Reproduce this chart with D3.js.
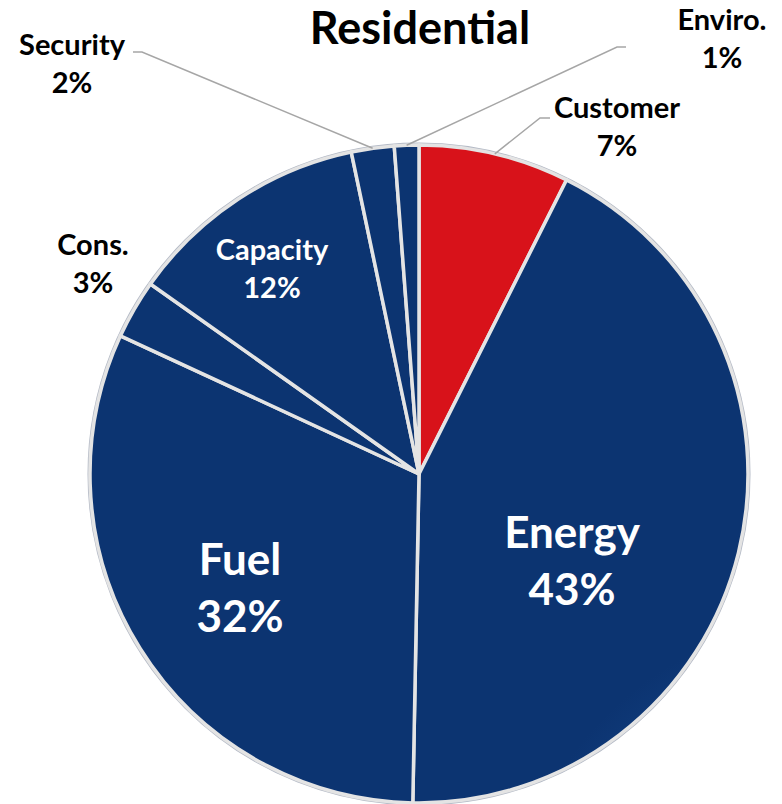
<!DOCTYPE html>
<html><head><meta charset="utf-8">
<script src="https://cdn.jsdelivr.net/npm/d3@7"></script>
<style>html,body{margin:0;padding:0;background:#fff;}svg{display:block;}</style>
</head><body>
<svg id="c" width="782" height="804"></svg>
<script>
const categories = ["Customer","Energy","Fuel","Cons.","Capacity","Security","Enviro."];
const values = [7.4, 42.9, 31.6, 2.9, 11.9, 2.1, 1.2];
const pctLabels = ["7%","43%","32%","3%","12%","2%","1%"];
const title = "Residential";

const W=782,H=804, cx=419, cy=474, R=329;
const svg=d3.select("#c");
const font="Lato, 'Noto Sans', sans-serif";

const defs=svg.append("defs");
const gb=defs.append("radialGradient").attr("id","gb").attr("gradientUnits","userSpaceOnUse").attr("cx",cx).attr("cy",cy).attr("r",R);
gb.append("stop").attr("offset","0%").attr("stop-color","#0f3873");
gb.append("stop").attr("offset","80%").attr("stop-color","#113d7d");
gb.append("stop").attr("offset","100%").attr("stop-color","#0c3471");
const gr=defs.append("radialGradient").attr("id","gr").attr("gradientUnits","userSpaceOnUse").attr("cx",cx).attr("cy",cy).attr("r",R);
gr.append("stop").attr("offset","0%").attr("stop-color","#d81018");
gr.append("stop").attr("offset","80%").attr("stop-color","#e3141b");
gr.append("stop").attr("offset","100%").attr("stop-color","#d8121a");

const pie=d3.pie().sort(null).value(d=>d.v);
const data=categories.map((c,i)=>({c,v:values[i],p:pctLabels[i]}));
const arcs=pie(data);
const arc=d3.arc().innerRadius(0).outerRadius(R);
const g=svg.append("g").attr("transform",`translate(${cx},${cy})`);

g.append("circle").attr("r",R+1).attr("fill","none").attr("stroke","#b4bac6").attr("stroke-width",3);
g.selectAll("path.s").data(arcs).enter().append("path").attr("class","s")
 .attr("d",arc).attr("fill",d=>d.data.c==="Customer"?"url(#gr)":"url(#gb)")
 .attr("stroke","#e4e4e4").attr("stroke-width",3.5).attr("stroke-linejoin","round");

const layout={
 "Customer":{x:617,y:118,inside:false,size:29,elbow:[540,118],start:[550,118]},
 "Energy":{x:572,y:548,inside:true,size:44},
 "Fuel":{x:240,y:575,inside:true,size:44},
 "Cons.":{x:93,y:255,inside:false,size:29},
 "Capacity":{x:272,y:260,inside:true,size:29},
 "Security":{x:72,y:55,inside:false,size:29,elbow:[142,52],start:[133,52]},
 "Enviro.":{x:722,y:30,inside:false,size:29,elbow:[617,47],start:[626,47]}
};

arcs.forEach(a=>{
  const L=layout[a.data.c];
  if(L.elbow){
    const mid=(a.startAngle+a.endAngle)/2;
    const px=cx+R*Math.sin(mid), py=cy-R*Math.cos(mid);
    svg.append("polyline").attr("points",[L.start,L.elbow,[px,py]].map(p=>p.join(",")).join(" "))
      .attr("fill","none").attr("stroke","#a6a6a6").attr("stroke-width",1.5);
  }
  const lh=L.size>30?57:38;
  const t=svg.append("text").attr("x",L.x).attr("y",L.y).attr("text-anchor","middle")
    .attr("font-family",font).attr("font-weight","bold").attr("font-size",L.size)
    .attr("fill",L.inside?"#ffffff":"#000000");
  t.append("tspan").attr("x",L.x).text(a.data.c);
  t.append("tspan").attr("x",L.x).attr("y",L.y+lh).text(a.data.p);
});

svg.append("text").attr("x",420).attr("y",44).attr("text-anchor","middle")
 .attr("font-family",font).attr("font-weight","bold").attr("font-size",45).attr("fill","#000").text(title);
</script>
</body></html>
